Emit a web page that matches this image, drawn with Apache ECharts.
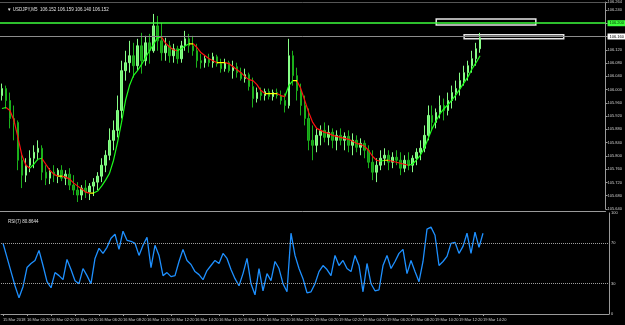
<!DOCTYPE html>
<html>
<head>
<meta charset="utf-8">
<script src="https://cdn.jsdelivr.net/npm/echarts/dist/echarts.min.js"></script>
<style>
  html, body { margin: 0; padding: 0; background: #000; }
  #chart { width: 625px; height: 325px; }
</style>
</head>
<body>
<div id="chart"></div>
<script>
// USDJPY M5 bars
const openP = [
  105.982,106.003,105.967,105.913,105.901,105.787,105.742,105.772,105.793,105.811,
  105.823,105.751,105.733,105.751,105.742,105.757,105.733,105.745,105.712,105.697,
  105.682,105.703,105.691,105.709,105.721,105.739,105.772,105.802,105.847,105.877,
  105.937,106.057,106.081,106.102,106.072,106.132,106.087,106.141,106.117,106.192,
  106.147,106.111,106.132,106.102,106.123,106.093,106.132,106.153,106.132,106.117,
  106.087,106.081,106.093,106.081,106.099,106.078,106.063,106.081,106.057,106.069,
  106.051,106.033,106.045,106.009,105.973,105.991,105.982,105.994,105.979,105.991,
  105.982,105.967,105.952,106.102,106.042,105.997,105.952,105.913,105.847,105.832,
  105.862,105.877,105.856,105.871,105.847,105.862,105.847,105.859,105.832,105.847,
  105.826,105.838,105.817,105.781,105.751,105.772,105.793,105.802,105.781,105.796,
  105.787,105.763,105.787,105.772,105.793,105.811,105.823,105.862,105.922,105.901,
  105.931,105.952,105.937,105.967,105.991,106.003,106.027,106.051,106.072,106.093,
  106.123
];
const highP = [
  106.018,106.012,105.991,105.952,105.907,105.802,105.793,105.817,105.832,105.847,
  105.832,105.772,105.763,105.772,105.763,105.772,105.757,105.763,105.742,105.721,
  105.712,105.727,105.718,105.733,105.751,105.793,105.817,105.883,105.907,105.982,
  106.087,106.117,106.147,106.141,106.153,106.171,106.162,106.168,106.228,106.222,
  106.201,106.156,106.147,106.138,106.132,106.147,106.177,106.168,106.162,106.138,
  106.108,106.102,106.108,106.111,106.105,106.093,106.093,106.087,106.087,106.081,
  106.066,106.063,106.051,106.036,106.006,106.006,106.003,106.003,106.000,106.003,
  105.997,105.988,106.153,106.117,106.066,106.018,105.982,105.943,105.892,105.883,
  105.892,105.901,105.892,105.883,105.877,105.883,105.871,105.877,105.868,105.862,
  105.853,105.847,105.832,105.817,105.793,105.817,105.823,105.817,105.811,105.817,
  105.811,105.802,105.811,105.802,105.823,105.847,105.892,105.952,105.952,105.943,
  105.982,105.973,105.991,106.012,106.027,106.051,106.072,106.087,106.117,106.141,
  106.171
];
const lowP = [
  105.967,105.943,105.883,105.847,105.757,105.703,105.721,105.751,105.763,105.787,
  105.727,105.712,105.715,105.721,105.718,105.724,105.712,105.697,105.682,105.661,
  105.667,105.673,105.667,105.679,105.697,105.721,105.751,105.787,105.817,105.856,
  105.913,106.027,106.051,106.036,106.057,106.048,106.072,106.078,106.111,106.117,
  106.087,106.087,106.081,106.081,106.078,106.081,106.117,106.111,106.102,106.066,
  106.063,106.066,106.069,106.066,106.069,106.051,106.054,106.051,106.033,106.036,
  106.027,106.021,105.997,105.946,105.961,105.967,105.967,105.970,105.967,105.973,
  105.955,105.931,105.943,106.012,105.967,105.922,105.892,105.817,105.787,105.811,
  105.832,105.841,105.832,105.823,105.817,105.832,105.817,105.811,105.802,105.811,
  105.802,105.793,105.763,105.727,105.721,105.757,105.772,105.757,105.763,105.772,
  105.742,105.751,105.757,105.751,105.772,105.787,105.811,105.847,105.877,105.883,
  105.913,105.907,105.922,105.943,105.967,105.982,106.012,106.027,106.051,106.072,
  106.111
];
const closeP = [
  106.003,105.967,105.913,105.901,105.787,105.742,105.772,105.793,105.811,105.823,
  105.751,105.733,105.751,105.742,105.757,105.733,105.745,105.712,105.697,105.682,
  105.703,105.691,105.709,105.721,105.739,105.772,105.802,105.847,105.877,105.937,
  106.057,106.081,106.102,106.072,106.132,106.087,106.141,106.117,106.192,106.147,
  106.111,106.132,106.102,106.123,106.093,106.132,106.153,106.132,106.117,106.087,
  106.081,106.093,106.081,106.099,106.078,106.063,106.081,106.057,106.069,106.051,
  106.033,106.045,106.009,105.973,105.991,105.982,105.994,105.979,105.991,105.982,
  105.967,105.952,106.102,106.042,105.997,105.952,105.913,105.847,105.832,105.862,
  105.877,105.856,105.871,105.847,105.862,105.847,105.859,105.832,105.847,105.826,
  105.838,105.817,105.781,105.751,105.772,105.793,105.802,105.781,105.796,105.787,
  105.763,105.787,105.772,105.793,105.811,105.823,105.862,105.922,105.901,105.931,
  105.952,105.937,105.967,105.991,106.003,106.027,106.051,106.072,106.093,106.123,
  106.156
];
// moving average drawn on the price window
const maLine = [
  105.943,105.946,105.937,105.907,105.856,105.802,105.772,105.763,105.775,105.790,
  105.793,105.775,105.757,105.745,105.739,105.739,105.736,105.730,105.718,105.709,
  105.700,105.691,105.688,105.688,105.694,105.709,105.727,105.748,105.787,105.841,
  105.901,105.967,106.012,106.042,106.057,106.075,106.096,106.117,106.135,106.156,
  106.159,106.141,106.129,106.120,106.117,106.123,106.132,106.138,106.138,106.126,
  106.111,106.102,106.093,106.087,106.081,106.081,106.081,106.078,106.069,106.060,
  106.051,106.039,106.030,106.027,106.015,105.997,105.988,105.988,105.988,105.988,
  105.982,105.979,106.012,106.027,106.027,106.003,105.967,105.931,105.901,105.883,
  105.877,105.871,105.868,105.862,105.859,105.856,105.853,105.850,105.844,105.838,
  105.835,105.829,105.817,105.799,105.787,105.784,105.787,105.787,105.784,105.781,
  105.778,105.775,105.772,105.775,105.787,105.802,105.823,105.853,105.883,105.907,
  105.928,105.943,105.955,105.970,105.985,106.003,106.021,106.039,106.063,106.081,
  106.102
];
// RSI(7)
const rsi = [
  70,56,42,28,16,27,46,50,53,63,
  48,32,26,41,38,34,54,44,33,30,
  45,38,30,55,65,60,66,75,79,64,
  82,73,72,70,58,68,76,46,68,58,
  38,41,37,38,52,64,53,49,42,39,
  34,43,48,53,50,60,55,44,35,28,
  40,55,30,19,45,23,40,33,52,45,
  30,22,80,58,45,35,21,22,30,42,
  48,44,38,58,48,53,45,42,58,48,
  22,50,30,23,24,48,58,45,52,60,
  64,40,53,42,32,52,84,86,78,48,
  52,57,70,71,60,67,80,60,81,66,
  80
];
const tickLabels = [
  '15 Mar 2018','16 Mar 00:20','16 Mar 02:20','16 Mar 04:20','16 Mar 06:20',
  '16 Mar 08:20','16 Mar 10:20','16 Mar 12:20','16 Mar 14:20','16 Mar 16:20',
  '16 Mar 18:20','16 Mar 20:20','16 Mar 22:20','19 Mar 00:20','19 Mar 02:20',
  '19 Mar 04:20','19 Mar 06:20','19 Mar 08:20','19 Mar 10:20','19 Mar 12:20',
  '19 Mar 14:20'
];
const rsiLevels = [70, 30];
const levelPrice = 106.204;   // horizontal line object
const bidPrice = 106.156;
// rectangle objects: [from bar, to bar, top price, bottom price]
const boxes = [
  [109, 134, 106.213, 106.195],
  [116, 141, 106.165, 106.153]
];

const SLOTS = 152;   // bars + empty space on the right (chart shift)
const LABEL_STEP = 6;
const slots = [];
for (let i = 0; i < SLOTS; i++) slots.push(String(i));

const candles = openP.map((o, i) => [o, closeP[i], lowP[i], highP[i]]);

// MA colour: green rising, red falling, yellow flat
const maPieces = [];
for (let i = 0; i < maLine.length; i++) {
  const d = i < maLine.length - 1 ? maLine[i + 1] - maLine[i] : 1;
  maPieces.push({
    gte: i, lt: i + 1,
    color: d > 0.0015 ? '#1cff1c' : (d < -0.0015 ? '#ff1010' : '#ffff00')
  });
}

const FONT = 'Liberation Sans';
const AX = '#9a9a9a';
const showTick = (idx) => idx % LABEL_STEP === 0 && idx / LABEL_STEP < tickLabels.length;

const chart = echarts.init(document.getElementById('chart'), null, { renderer: 'canvas' });
chart.setOption({
  animation: false,
  backgroundColor: '#000000',
  textStyle: { fontFamily: FONT },
  title: [
    {
      text: '\u25BC USDJPY,M5  106.152 106.159 106.140 106.152',
      left: 2, top: 2,
      textStyle: { fontSize: 4.5, color: '#e0e0e0', fontWeight: 'normal', fontFamily: FONT }
    },
    {
      text: 'RSI(7) 80.8644',
      left: 3, top: 214,
      textStyle: { fontSize: 4.5, color: '#e0e0e0', fontWeight: 'normal', fontFamily: FONT }
    }
  ],
  grid: [
    { left: 0, right: 16, top: 1, height: 208 },
    { left: 0, right: 16, top: 213, height: 101 }
  ],
  xAxis: [
    {
      type: 'category', gridIndex: 0, data: slots, position: 'bottom', offset: 2,
      axisLine: { lineStyle: { color: AX } }, axisTick: { show: false }, axisLabel: { show: false }
    },
    {
      type: 'category', gridIndex: 0, data: slots, position: 'top',
      axisLine: { lineStyle: { color: '#555' } }, axisTick: { show: false }, axisLabel: { show: false }
    },
    {
      type: 'category', gridIndex: 1, data: slots, position: 'bottom', offset: 3,
      axisLine: { lineStyle: { color: AX } },
      axisTick: { show: true, interval: showTick, alignWithLabel: true, length: 2, lineStyle: { color: AX } },
      axisLabel: {
        interval: showTick, align: 'left', margin: 1, fontSize: 4, color: '#d0d0d0', fontFamily: FONT,
        formatter: (v, idx) => tickLabels[idx / LABEL_STEP] || ''
      }
    }
  ],
  yAxis: [
    {
      type: 'value', gridIndex: 0, position: 'right',
      min: 105.64, max: 106.264, interval: 0.04,
      axisLine: { show: true, lineStyle: { color: AX } },
      axisTick: { show: true, length: 2, lineStyle: { color: AX } },
      splitLine: { show: false },
      axisLabel: { fontSize: 4, margin: 2, color: '#d0d0d0', fontFamily: FONT, formatter: (v) => v.toFixed(3) }
    },
    {
      type: 'value', gridIndex: 1, position: 'right',
      min: 0, max: 100, interval: 10,
      axisLine: { show: true, lineStyle: { color: AX } },
      axisTick: { show: false },
      splitLine: { show: false },
      axisLabel: {
        fontSize: 4, margin: 2, color: '#d0d0d0', fontFamily: FONT,
        formatter: (v) => ([0, 30, 70, 100].indexOf(v) >= 0 ? String(v) : '')
      }
    }
  ],
  visualMap: [{
    type: 'piecewise', show: false, dimension: 0, seriesIndex: 1,
    pieces: maPieces, outOfRange: { color: '#1cff1c' }
  }],
  series: [
    {
      name: 'USDJPY', type: 'candlestick', xAxisIndex: 0, yAxisIndex: 0,
      data: candles, barWidth: 2,
      itemStyle: {
        color: '#6ff06f', color0: '#149a14',
        borderColor: '#88ff88', borderColor0: '#1bb01b', borderWidth: 1
      },
      markLine: {
        silent: true, symbol: ['none', 'none'],
        label: {
          position: 'end', distance: 2, fontSize: 4, fontFamily: FONT,
          padding: [1, 2], formatter: (p) => p.value.toFixed(3)
        },
        data: [
          {
            yAxis: levelPrice,
            lineStyle: { color: '#3cff3c', width: 1.5, type: 'solid' },
            label: { backgroundColor: '#3cff3c', color: '#003300' }
          },
          {
            yAxis: bidPrice,
            lineStyle: { color: '#8c8c8c', width: 1, type: 'solid' },
            label: { backgroundColor: '#ffffff', color: '#000000' }
          }
        ]
      },
      markArea: {
        silent: true,
        itemStyle: { color: 'rgba(0,0,0,0)', borderColor: '#e6e6e6', borderWidth: 1.5 },
        data: boxes.map((b) => [{ xAxis: b[0], yAxis: b[2] }, { xAxis: b[1], yAxis: b[3] }])
      }
    },
    {
      name: 'MA', type: 'line', xAxisIndex: 0, yAxisIndex: 0,
      data: maLine, symbol: 'none', lineStyle: { width: 1.2 }
    },
    {
      name: 'RSI', type: 'line', xAxisIndex: 2, yAxisIndex: 1,
      data: rsi, symbol: 'none',
      lineStyle: { color: '#1e90ff', width: 1.3 },
      itemStyle: { color: '#1e90ff' },
      markLine: {
        silent: true, symbol: ['none', 'none'], label: { show: false },
        lineStyle: { color: '#a0a0a0', type: 'dotted', width: 1 },
        data: rsiLevels.map((v) => ({ yAxis: v }))
      }
    }
  ]
});
</script>
</body>
</html>
